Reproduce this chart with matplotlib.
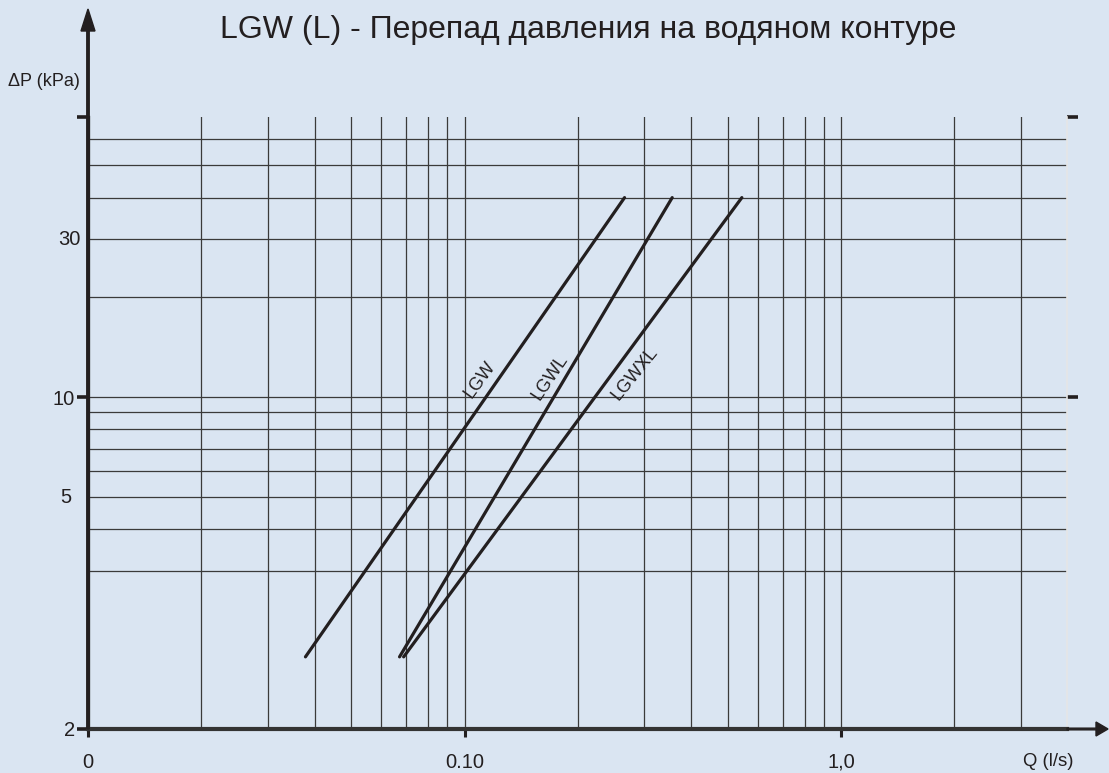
import matplotlib
matplotlib.use("Agg")
import matplotlib.pyplot as plt

# chart data
series_names = ["LGW", "LGWL", "LGWXL"]
q_start = [0.0378, 0.0672, 0.0689]
q_end = [0.266, 0.356, 0.545]
dp_start = [1.65, 1.65, 1.65]
dp_end = [40.0, 40.0, 40.0]

label_q = [0.110, 0.169, 0.283]
label_dp = [11.3, 11.5, 11.8]
label_rot = [54, 56, 51]

x_grid = [0.02, 0.03, 0.04, 0.05, 0.06, 0.07, 0.08, 0.09, 0.1,
          0.2, 0.3, 0.4, 0.5, 0.6, 0.7, 0.8, 0.9, 1.0, 2.0, 3.0]
y_grid = [3, 4, 5, 6, 7, 8, 9, 10, 20, 30, 40, 50, 60]

x_ticks = [0.01, 0.1, 1.0]
x_ticklabels = ["0", "0.10", "1,0"]
y_ticks = [1, 10, 70]
y_ticklabels = ["2", "10", ""]
y_extra = [5, 30]
y_extralabels = ["5", "30"]
y_extra_off = [-17, -7]     # label offset from the axis, px

title = "LGW (L) - Перепад давления на водяном контуре"

BG = "#dae5f2"
INK = "#231f20"
GRID = "#3a3a3a"

plt.rcParams["font.family"] = ["Liberation Sans", "DejaVu Sans"]

fig = plt.figure(figsize=(11.09, 7.73), dpi=100, facecolor=BG)
ax = fig.add_axes([88 / 1109, 44 / 773, 979 / 1109, 612 / 773])
ax.set_facecolor(BG)
ax.set_xscale("log")
ax.set_yscale("log")
ax.set_xlim(0.01, 3.98)
ax.set_ylim(1, 70)

# grid
for x in x_grid:
    ax.axvline(x, color=GRID, lw=0.9, zorder=1)
for y in y_grid:
    ax.axhline(y, color=GRID, lw=0.9, zorder=1)

# curves
for i, name in enumerate(series_names):
    ax.plot([q_start[i], q_end[i]], [dp_start[i], dp_end[i]],
            color=INK, lw=2.3, solid_capstyle="round", zorder=3)
    ax.text(label_q[i], label_dp[i], name, rotation=label_rot[i],
            ha="center", va="center", fontsize=13, color=INK,
            rotation_mode="anchor", zorder=4)

# spines
ax.spines["top"].set_visible(False)
ax.spines["right"].set_color("#e6e6e6")
ax.spines["right"].set_linewidth(1.2)
ax.spines["left"].set_color("#333333")
ax.spines["left"].set_linewidth(2.4)
ax.spines["bottom"].set_color("#333333")
ax.spines["bottom"].set_linewidth(3.0)

# ticks
ax.set_xticks(x_ticks)
ax.set_xticklabels(x_ticklabels)
ax.xaxis.set_minor_locator(matplotlib.ticker.NullLocator())
ax.yaxis.set_minor_locator(matplotlib.ticker.NullLocator())
ax.set_yticks(y_ticks)
ax.set_yticklabels(y_ticklabels)
ax.tick_params(axis="x", which="major", direction="out", length=6, width=2.2,
               color=INK, labelsize=14.5, labelcolor=INK, pad=11)
ax.tick_params(axis="y", which="major", direction="out", length=8, width=2.6,
               color=INK, labelsize=14.5, labelcolor=INK, pad=1.5,
               right=True)
ax.yaxis.get_major_ticks()[0].tick2line.set_visible(False)

for y, lab, off in zip(y_extra, y_extralabels, y_extra_off):
    ax.text(off / 979, y, lab, transform=ax.get_yaxis_transform(),
            ha="right", va="center", fontsize=14.5, color=INK)

# axis arrows
fig.add_artist(matplotlib.patches.FancyArrow(
    88 / 1109, 44 / 773, 0, (1 - 9 / 773) - 44 / 773, width=0.0022,
    head_width=14 / 1109, head_length=22 / 773, length_includes_head=True,
    color=INK, transform=fig.transFigure))
fig.add_artist(matplotlib.patches.FancyArrow(
    1067 / 1109, 44 / 773, 1108 / 1109 - 1067 / 1109, 0, width=0.0022,
    head_width=14 / 773, head_length=12 / 1109, length_includes_head=True,
    color=INK, transform=fig.transFigure))

fig.text(80 / 1109, 1 - 81 / 773, "ΔP (kPa)", ha="right", va="center",
         fontsize=13, color=INK)
fig.text(1048 / 1109, 1 - 762 / 773, "Q (l/s)", ha="center", va="center",
         fontsize=13.3, color=INK)
fig.text(588 / 1109, 1 - 30 / 773, title, ha="center", va="center",
         fontsize=23, color=INK)

fig.savefig("out.png", dpi=100, facecolor=BG)
